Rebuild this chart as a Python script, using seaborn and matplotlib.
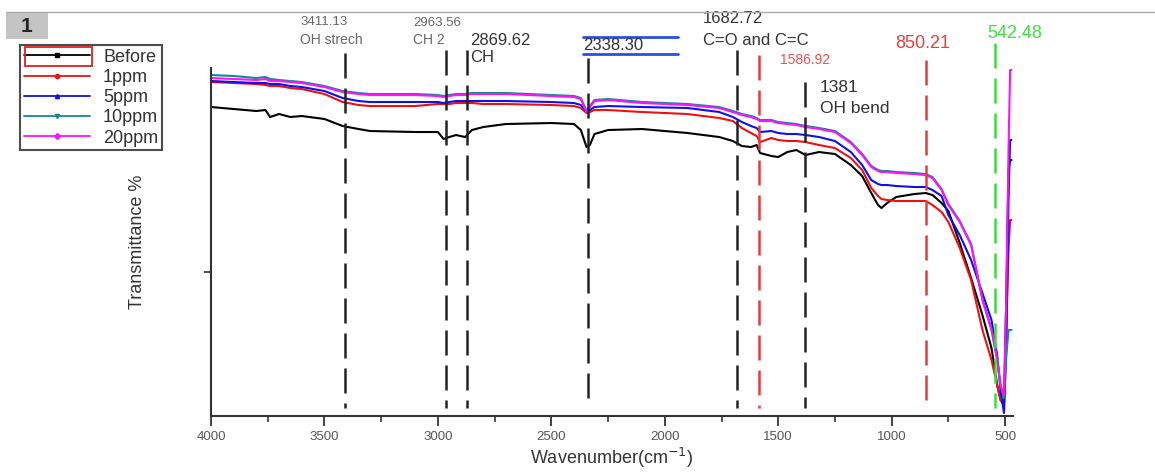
import numpy as np
import pandas as pd
import seaborn as sns
import matplotlib.pyplot as plt
from matplotlib.lines import Line2D
from matplotlib.patches import Rectangle

# wavenumber grid (cm-1)
wavenumber = [4000, 3900, 3800, 3760, 3740, 3700, 3650, 3600, 3500, 3420,
              3350, 3300, 3100, 3000, 2975, 2950, 2920, 2880, 2850, 2800,
              2700, 2500, 2400, 2370, 2345, 2330, 2310, 2250, 2100, 1900,
              1760, 1700, 1660, 1620, 1595, 1580, 1530, 1500, 1460, 1420,
              1380, 1320, 1250, 1180, 1130, 1090, 1060, 1045, 1020, 980,
              900, 850, 820, 780, 750, 700, 650, 600, 560, 535,
              520, 505, 495, 485, 478, 472]

# transmittance, arbitrary units (axis has no labels)
before = [309, 307, 305, 306, 299, 302, 299, 300, 297, 290,
          287, 285, 284, 284, 277, 279, 281, 279, 286, 289,
          292, 293, 292, 286, 269, 271, 282, 286, 287, 283,
          279, 275, 270, 269, 271, 263, 260, 259, 264, 266,
          261, 264, 262, 251, 240, 223, 211, 208, 213, 219,
          222, 223, 221, 213, 205, 173, 138, 101, 68, 31,
          16, 11, 116, 246, 256, 256]
ppm1 = [334, 333, 332, 331, 330, 330, 328, 327, 322, 314,
        311, 310, 310, 312, 312, 312, 313, 313, 313, 312,
        312, 311, 310, 308, 303, 304, 306, 306, 304, 302,
        298, 295, 288, 283, 280, 274, 278, 276, 275, 275,
        274, 271, 268, 258, 246, 228, 220, 217, 216, 215,
        215, 215, 211, 204, 194, 168, 136, 86, 56, 31,
        16, 11, 86, 166, 196, 196]
ppm5 = [335, 334, 333, 333, 332, 332, 330, 329, 325, 318,
        315, 314, 314, 314, 313, 314, 315, 315, 315, 315,
        315, 314, 313, 311, 304, 306, 309, 310, 309, 308,
        304, 299, 294, 290, 288, 284, 285, 283, 282, 282,
        281, 279, 275, 264, 251, 236, 232, 231, 231, 230,
        229, 229, 226, 220, 201, 181, 156, 123, 96, 61,
        26, 3, 66, 216, 276, 276]
ppm10 = [341, 340, 338, 339, 337, 336, 335, 334, 330, 325,
         323, 322, 322, 321, 320, 321, 322, 322, 323, 323,
         323, 321, 320, 318, 305, 310, 316, 317, 314, 312,
         309, 305, 302, 300, 298, 296, 296, 294, 293, 292,
         290, 288, 285, 274, 262, 250, 246, 245, 245, 244,
         243, 242, 239, 227, 212, 195, 172, 117, 87, 57,
         30, 18, 60, 86, 86, 86]
ppm20 = [338, 337, 336, 337, 335, 335, 334, 333, 329, 324,
         322, 321, 321, 320, 319, 320, 321, 321, 322, 322,
         322, 320, 319, 317, 304, 309, 315, 316, 313, 311,
         308, 304, 301, 299, 297, 295, 295, 293, 292, 291,
         289, 287, 284, 273, 261, 249, 245, 244, 244, 243,
         242, 241, 238, 226, 211, 194, 171, 116, 86, 56,
         31, 21, 116, 266, 346, 346]

samples = ["Before", "1ppm", "5ppm", "10ppm", "20ppm"]
colors = ["#000000", "#f01010", "#1010e8", "#138a8a", "#ff10ff"]
markers = ["s", "o", "^", "v", "D"]

# peak markers
peak_pos = [3411.13, 2963.56, 2869.62, 2338.30, 1682.72, 1586.92, 1381, 850.21, 542.48]
peak_top = [363, 366, 366, 358, 366, 361, 334, 356, 373]
peak_col = ["#222222"] * 5 + ["#e83a3a", "#222222", "#e83a3a", "#3fdc3f"]

# peak annotations: text, x (wavenumber), y, colour, size
ann_text = ["3411.13", "OH strech", "2963.56", "CH 2", "2869.62", "CH",
            "2338.30", "1682.72", "C=O and C=C", "1586.92", "850.21",
            "542.48", "1381", "OH bend"]
ann_x = [3608, 3608, 3110, 3110, 2859, 2859, 2361, 1832, 1832, 1492, 986, 580, 1316, 1316]
ann_y = [394, 376, 393, 376, 376, 359, 371, 398, 376, 356, 373, 383, 329, 308]
ann_col = ["#666666", "#666666", "#666666", "#666666", "#333333", "#333333",
           "#333333", "#333333", "#333333", "#f05050", "#e84040", "#3fe03f",
           "#333333", "#333333"]
ann_size = [9.5, 10, 9.5, 10, 12, 12, 12, 12, 12, 10, 13, 13, 12.5, 12.5]

sns.set_style("ticks")
plt.rcParams['font.family'] = ['Liberation Sans', 'DejaVu Sans']

df = pd.DataFrame({
    "wn": wavenumber * 5,
    "T": before + ppm1 + ppm5 + ppm10 + ppm20,
    "sample": [s for s in samples for _ in wavenumber],
})

fig = plt.figure(figsize=(11.55, 4.72), dpi=100)
ax = fig.add_axes([0.1827, 0.1186, 0.6944, 0.7373])

sns.lineplot(data=df, x="wn", y="T", hue="sample", hue_order=samples,
             palette=colors, estimator=None, sort=False, lw=1.5,
             legend=False, ax=ax)

ax.set_xlim(4000, 465)
ax.set_ylim(0, 348)

# dashed peak lines, drawn top-down so each starts with a dash
for x, top, c in zip(peak_pos, peak_top, peak_col):
    ax.plot([x, x], [top, 8], color=c, lw=1.8, ls=(0, (10, 4)), clip_on=False)

for t, x, y, c, s in zip(ann_text, ann_x, ann_y, ann_col, ann_size):
    ax.text(x, y, t, color=c, fontsize=s, ha="left", va="center", clip_on=False)

# blue bars above/below 2338.30
for yb in [379, 362]:
    ax.plot([2361, 1942], [yb, yb], color="#2a50e0", lw=2, clip_on=False)

ax.set_xticks(np.arange(4000, 499, -500))
ax.set_xticks(np.arange(3750, 499, -500), minor=True)
ax.set_yticks([144])
ax.set_yticklabels([])
ax.tick_params(axis="x", which="major", length=7, width=1.3, color="#333333",
               labelsize=9.5, labelcolor="#555555", pad=4)
ax.tick_params(axis="x", which="minor", length=4, width=1.2, color="#333333")
ax.tick_params(axis="y", length=5, width=1.2, color="#333333")
for side in ["top", "right"]:
    ax.spines[side].set_visible(False)
for side in ["left", "bottom"]:
    ax.spines[side].set_linewidth(1.5)
    ax.spines[side].set_color("#333333")

ax.set_xlabel("Wavenumber(cm$^{-1}$)", fontsize=13, color="#333333", labelpad=2)
ax.set_ylabel("Transmittance %", fontsize=13, color="#333333", labelpad=38)

# legend
handles = [Line2D([0], [0], color=c, lw=1.3, marker=m, markersize=3)
           for c, m in zip(colors, markers)]
leg = fig.legend(handles, samples, loc="upper left",
                 bbox_to_anchor=(20 / 1155, 1 - 45 / 472), frameon=True,
                 fancybox=False, edgecolor="#222222", fontsize=13,
                 handlelength=3.7, labelspacing=0.18, borderpad=0.2,
                 handletextpad=0.7, borderaxespad=0)
leg.get_frame().set_linewidth(1.5)
for txt in leg.get_texts():
    txt.set_color("#333333")

# red selection box around first legend entry
fig.add_artist(Rectangle((25 / 1155, 1 - 66 / 472), 67 / 1155, 19 / 472,
                         transform=fig.transFigure, fill=False,
                         edgecolor="#e02020", lw=1.3, zorder=10))

# panel label "1" and top rule
fig.add_artist(Line2D([6 / 1155, 1], [1 - 12 / 472, 1 - 12 / 472],
                      transform=fig.transFigure, color="#aaaaaa", lw=1))
fig.add_artist(Rectangle((6 / 1155, 1 - 39 / 472), 42 / 1155, 27 / 472,
                         transform=fig.transFigure, facecolor="#c4c4c4",
                         edgecolor="none"))
fig.text(27 / 1155, 1 - 26 / 472, "1", fontsize=15, fontweight="bold",
         ha="center", va="center")

fig.savefig("out.png", dpi=100)
